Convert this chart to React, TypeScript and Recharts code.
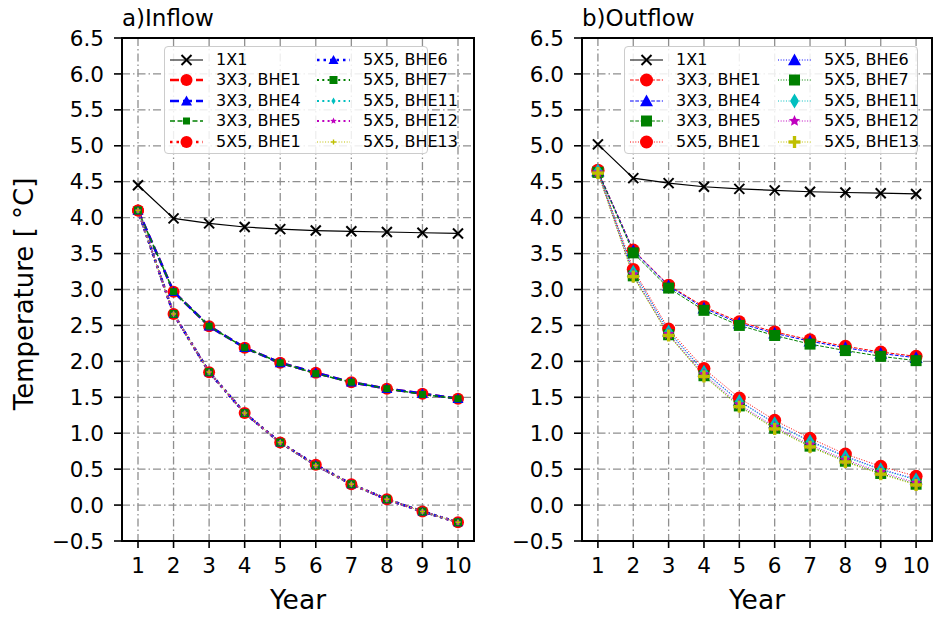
import { CartesianGrid, Line, LineChart, ReferenceArea, XAxis, YAxis } from "recharts";

const years = [1, 2, 3, 4, 5, 6, 7, 8, 9, 10];
const yTicks = [-0.5, 0, 0.5, 1, 1.5, 2, 2.5, 3, 3.5, 4, 4.5, 5, 5.5, 6, 6.5];

const seriesNames = [
  "1X1",
  "3X3, BHE1",
  "3X3, BHE4",
  "3X3, BHE5",
  "5X5, BHE1",
  "5X5, BHE6",
  "5X5, BHE7",
  "5X5, BHE11",
  "5X5, BHE12",
  "5X5, BHE13",
];

// a) inflow temperatures
const in1x1 = [4.45, 3.99, 3.92, 3.87, 3.84, 3.82, 3.81, 3.8, 3.79, 3.78];
const in3x3Bhe1 = [4.1, 2.97, 2.49, 2.19, 1.98, 1.84, 1.71, 1.62, 1.55, 1.48];
const in3x3Bhe4 = [4.1, 2.97, 2.49, 2.19, 1.98, 1.84, 1.71, 1.62, 1.55, 1.48];
const in3x3Bhe5 = [4.1, 2.97, 2.49, 2.19, 1.98, 1.83, 1.71, 1.62, 1.54, 1.48];
const in5x5Bhe1 = [4.1, 2.66, 1.85, 1.28, 0.87, 0.56, 0.29, 0.08, -0.09, -0.24];
const in5x5Bhe6 = [4.1, 2.66, 1.85, 1.28, 0.87, 0.56, 0.29, 0.08, -0.09, -0.24];
const in5x5Bhe7 = [4.1, 2.66, 1.85, 1.28, 0.87, 0.55, 0.29, 0.08, -0.09, -0.24];
const in5x5Bhe11 = [4.1, 2.66, 1.85, 1.28, 0.87, 0.55, 0.29, 0.08, -0.09, -0.24];
const in5x5Bhe12 = [4.1, 2.66, 1.85, 1.28, 0.87, 0.55, 0.29, 0.08, -0.09, -0.24];
const in5x5Bhe13 = [4.1, 2.66, 1.85, 1.28, 0.87, 0.55, 0.29, 0.08, -0.09, -0.24];

// b) outflow temperatures
const out1x1 = [5.02, 4.55, 4.48, 4.43, 4.4, 4.38, 4.36, 4.35, 4.34, 4.33];
const out3x3Bhe1 = [4.65, 3.55, 3.06, 2.76, 2.55, 2.41, 2.3, 2.21, 2.13, 2.07];
const out3x3Bhe4 = [4.65, 3.54, 3.05, 2.74, 2.53, 2.39, 2.28, 2.19, 2.11, 2.05];
const out3x3Bhe5 = [4.64, 3.51, 3.02, 2.71, 2.5, 2.36, 2.24, 2.15, 2.07, 2.01];
const out5x5Bhe1 = [4.66, 3.28, 2.45, 1.9, 1.49, 1.18, 0.93, 0.71, 0.54, 0.4];
const out5x5Bhe6 = [4.65, 3.25, 2.42, 1.86, 1.45, 1.14, 0.89, 0.68, 0.5, 0.36];
const out5x5Bhe7 = [4.63, 3.19, 2.37, 1.8, 1.38, 1.07, 0.82, 0.61, 0.44, 0.29];
const out5x5Bhe11 = [4.65, 3.24, 2.41, 1.85, 1.44, 1.13, 0.88, 0.67, 0.49, 0.35];
const out5x5Bhe12 = [4.63, 3.21, 2.38, 1.82, 1.4, 1.09, 0.84, 0.63, 0.46, 0.31];
const out5x5Bhe13 = [4.62, 3.18, 2.36, 1.79, 1.37, 1.06, 0.81, 0.6, 0.43, 0.28];

const inflowSeries = [in1x1, in3x3Bhe1, in3x3Bhe4, in3x3Bhe5, in5x5Bhe1, in5x5Bhe6, in5x5Bhe7, in5x5Bhe11, in5x5Bhe12, in5x5Bhe13];
const outflowSeries = [out1x1, out3x3Bhe1, out3x3Bhe4, out3x3Bhe5, out5x5Bhe1, out5x5Bhe6, out5x5Bhe7, out5x5Bhe11, out5x5Bhe12, out5x5Bhe13];

type Shape = "x" | "circle" | "triangle" | "square" | "diamond" | "star" | "plus";

interface SeriesStyle {
  color: string;
  dash?: string;
  width: number;
  shape: Shape;
  size: number;
}

const FONT = "DejaVu Sans, sans-serif";

const inflowStyles: SeriesStyle[] = [
  { color: "#000000", width: 1.2, shape: "x", size: 5 },
  { color: "#ff0000", dash: "9 4", width: 2.5, shape: "circle", size: 6 },
  { color: "#0000ff", dash: "9 4", width: 2.5, shape: "triangle", size: 5.5 },
  { color: "#008000", dash: "5 2.5", width: 1.5, shape: "square", size: 3.5 },
  { color: "#ff0000", dash: "2.5 4", width: 2.5, shape: "circle", size: 6 },
  { color: "#0000ff", dash: "2.5 4", width: 2.5, shape: "triangle", size: 5 },
  { color: "#008000", dash: "2 3.3", width: 2, shape: "square", size: 4 },
  { color: "#00bfbf", dash: "2 3.3", width: 2, shape: "diamond", size: 3.5 },
  { color: "#bf00bf", dash: "2 3.3", width: 2, shape: "star", size: 3.5 },
  { color: "#bfbf00", dash: "1 1.7", width: 1, shape: "plus", size: 2.5 },
];

const outflowStyles: SeriesStyle[] = [
  { color: "#000000", width: 1.2, shape: "x", size: 5 },
  { color: "#ff0000", dash: "3.7 1.6", width: 1, shape: "circle", size: 6.5 },
  { color: "#0000ff", dash: "3.7 1.6", width: 1, shape: "triangle", size: 6.5 },
  { color: "#008000", dash: "3.7 1.6", width: 1, shape: "square", size: 5.5 },
  { color: "#ff0000", dash: "1 1.65", width: 1, shape: "circle", size: 6.5 },
  { color: "#0000ff", dash: "1 1.65", width: 1, shape: "triangle", size: 6.5 },
  { color: "#008000", dash: "1 1.65", width: 1, shape: "square", size: 5.5 },
  { color: "#00bfbf", dash: "1 1.65", width: 1, shape: "diamond", size: 7.5 },
  { color: "#bf00bf", dash: "1 1.65", width: 1, shape: "star", size: 6 },
  { color: "#bfbf00", dash: "1 1.65", width: 1, shape: "plus", size: 6 },
];

function Marker({ shape, x, y, size, color }: { shape: Shape; x: number; y: number; size: number; color: string }) {
  const s = size;
  switch (shape) {
    case "x":
      return (
        <g stroke={color} strokeWidth={2}>
          <line x1={x - s} y1={y - s} x2={x + s} y2={y + s} />
          <line x1={x - s} y1={y + s} x2={x + s} y2={y - s} />
        </g>
      );
    case "circle":
      return <circle cx={x} cy={y} r={s} fill={color} />;
    case "triangle":
      return <polygon points={`${x},${y - s} ${x - s},${y + s * 0.8} ${x + s},${y + s * 0.8}`} fill={color} />;
    case "square":
      return <rect x={x - s} y={y - s} width={2 * s} height={2 * s} fill={color} />;
    case "diamond": {
      const w = s * 0.6;
      return <polygon points={`${x},${y - s} ${x + w},${y} ${x},${y + s} ${x - w},${y}`} fill={color} />;
    }
    case "star": {
      const pts: string[] = [];
      for (let i = 0; i < 10; i++) {
        const r = i % 2 === 0 ? s : s * 0.45;
        const a = -Math.PI / 2 + (i * Math.PI) / 5;
        pts.push(`${x + r * Math.cos(a)},${y + r * Math.sin(a)}`);
      }
      return <polygon points={pts.join(" ")} fill={color} />;
    }
    case "plus": {
      const t = s * 0.28;
      return (
        <g fill={color}>
          <rect x={x - s} y={y - t} width={2 * s} height={2 * t} />
          <rect x={x - t} y={y - s} width={2 * t} height={2 * s} />
        </g>
      );
    }
  }
  return null;
}

function fmt(v: number) {
  const s = Math.abs(v).toFixed(1);
  return v < 0 ? "\u2212" + s : s;
}

interface PanelProps {
  left: number;
  width: number;
  axisWidth: number;
  rightMargin: number;
  series: number[][];
  styles: SeriesStyle[];
}

function Panel({ left, width, axisWidth, rightMargin, series, styles }: PanelProps) {
  const rows = years.map((year, i) => {
    const row: Record<string, number> = { year };
    series.forEach((arr, k) => {
      row[`s${k}`] = arr[i];
    });
    return row;
  });
  const tickStyle = { fill: "#000", fontSize: 21.5, fontFamily: FONT };
  return (
    <div style={{ position: "absolute", left, top: 0 }}>
      <LineChart width={width} height={617} data={rows} margin={{ top: 38, right: rightMargin, bottom: 0, left: 0 }}>
        <CartesianGrid stroke="#8f8f8f" strokeWidth={1.3} strokeDasharray="8 3 1.5 3" />
        <XAxis
          dataKey="year"
          type="number"
          domain={[0.55, 10.45]}
          ticks={years}
          interval={0}
          height={76}
          tick={tickStyle}
          tickSize={7}
          tickMargin={10}
          axisLine={{ stroke: "#000", strokeWidth: 2 }}
          tickLine={{ stroke: "#000", strokeWidth: 1.6 }}
          allowDataOverflow
        />
        <YAxis
          type="number"
          domain={[-0.5, 6.5]}
          ticks={yTicks}
          interval={0}
          width={axisWidth}
          tick={tickStyle}
          tickFormatter={fmt}
          tickSize={8}
          tickMargin={10}
          axisLine={{ stroke: "#000", strokeWidth: 2 }}
          tickLine={{ stroke: "#000", strokeWidth: 1.6 }}
          allowDataOverflow
        />
        {styles.map((st, k) => (
          <Line
            key={k}
            dataKey={`s${k}`}
            name={seriesNames[k]}
            stroke={st.color}
            strokeWidth={st.width}
            strokeDasharray={st.dash}
            isAnimationActive={false}
            activeDot={false}
            dot={(p: any) => (
              <Marker key={`m${k}-${p.index}`} shape={st.shape} x={p.cx} y={p.cy} size={st.size} color={st.color} />
            )}
          />
        ))}
        <ReferenceArea x1={0.55} x2={10.45} y1={-0.5} y2={6.5} fill="none" fillOpacity={0} stroke="#000" strokeWidth={2} ifOverflow="visible" />
      </LineChart>
    </div>
  );
}

function LegendBox({ left, width, col2, styles }: { left: number; width: number; col2: number; styles: SeriesStyle[] }) {
  return (
    <div
      style={{
        position: "absolute",
        left,
        top: 46,
        width,
        height: 108,
        background: "rgba(255,255,255,0.85)",
        border: "1px solid #cccccc",
        borderRadius: 4,
        boxSizing: "border-box",
        fontFamily: FONT,
        fontSize: 16,
        color: "#000",
      }}
    >
      {styles.map((st, k) => {
        const col = k < 5 ? 0 : 1;
        const row = k % 5;
        const x0 = col === 0 ? 5 : col2;
        const cy = 12.5 + row * 20.5;
        return (
          <div key={k} style={{ position: "absolute", left: x0, top: cy - 10, height: 20, whiteSpace: "nowrap" }}>
            <svg width={36} height={20} style={{ position: "absolute", left: 0, top: 0, overflow: "visible" }}>
              <line x1={0} y1={10} x2={33} y2={10} stroke={st.color} strokeWidth={st.width} strokeDasharray={st.dash} />
              <Marker shape={st.shape} x={16.5} y={10} size={st.size} color={st.color} />
            </svg>
            <span style={{ position: "absolute", left: 46, top: 0, lineHeight: "20px" }}>{seriesNames[k]}</span>
          </div>
        );
      })}
    </div>
  );
}

export default function App() {
  return (
    <div style={{ position: "absolute", left: 0, top: 0, width: 933, height: 617, background: "#fff", overflow: "hidden" }}>
      <Panel left={0} width={480} axisWidth={122} rightMargin={6} series={inflowSeries} styles={inflowStyles} />
      <Panel left={480} width={453} axisWidth={102} rightMargin={1} series={outflowSeries} styles={outflowStyles} />
      <svg width={933} height={617} style={{ position: "absolute", left: 0, top: 0, pointerEvents: "none" }}>
        <g fontFamily={FONT} fill="#000">
          <text x={122} y={26} fontSize={23}>a)Inflow</text>
          <text x={582} y={26} fontSize={23}>b)Outflow</text>
          <text x={298} y={609} fontSize={26.5} textAnchor="middle">Year</text>
          <text x={757} y={609} fontSize={26.5} textAnchor="middle">Year</text>
          <text x={33} y={294} fontSize={26} textAnchor="middle" transform="rotate(-90 33 294)">
            Temperature [ °C]
          </text>
        </g>
      </svg>
      <LegendBox left={164} width={264} col2={152} styles={inflowStyles} />
      <LegendBox left={624} width={294} col2={153} styles={outflowStyles} />
    </div>
  );
}
